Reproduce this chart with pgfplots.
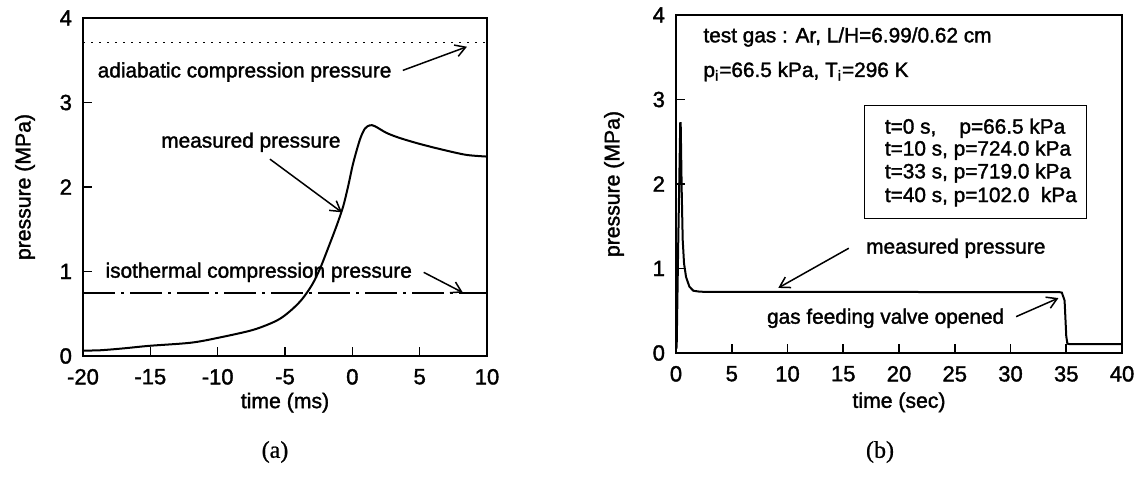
\documentclass[border=0pt]{standalone}
\usepackage{fontspec}
\setmainfont{Liberation Sans}[FakeBold=1.6]
\newfontfamily\seriffont{Liberation Serif}[FakeBold=0.8]
\usepackage{pgfplots}
\pgfplotsset{compat=1.18}
\usetikzlibrary{arrows.meta}
\begin{document}
\begin{tikzpicture}[font=\fontsize{10.4}{12.6}\selectfont,
  ann/.style={line width=0.75pt, -{Straight Barb[length=5pt,width=6pt]}}]
\useasboundingbox (0,0) rectangle (569pt,242.5pt);
\pgfplotsset{myax/.style={scale only axis, anchor=south west, clip=false,
  tick align=inside, tick pos=left, major tick length=4.5pt,
  axis line style={line width=1pt},
  every tick/.style={line width=0.8pt, black},
  ymin=0, ymax=4, ytick={0,1,2,3,4},
  /pgf/number format/assume math mode=true,
  tick label style={font=\fontsize{11}{13}\selectfont},
  yticklabel style={xshift=-2pt},
  xticklabel style={yshift=-3pt},
  label style={font=\fontsize{10.6}{13}\selectfont},
  ylabel={pressure (MPa)}}}
% ---------------- (a)
\begin{axis}[myax, at={(41.5pt,64.5pt)}, width=202pt, height=169pt,
  xmin=-20, xmax=10, xtick={-20,-15,...,10},
  xlabel={time (ms)},
  xlabel style={at={(axis description cs:0.5,-0.138)}, anchor=center},
  ylabel style={at={(axis description cs:-0.1436,0.5)}, anchor=center}]
\addplot[black, line width=0.8pt, dash pattern=on 0.8pt off 3.2pt] coordinates {(-20,3.71) (10,3.71)};
\addplot[black, line width=0.9pt, dash pattern=on 16pt off 3pt on 1.5pt off 3pt] coordinates {(-20,0.745) (10,0.745)};
\addplot[black, line width=1pt, smooth, tension=0.5] coordinates {
(-20,0.065) (-18.8,0.067) (-17,0.09) (-15.1,0.12) (-12,0.157) (-9.94,0.216)
(-7.35,0.31) (-5.6,0.42) (-4.63,0.53) (-3.77,0.665) (-3.0,0.84) (-2.41,1.03)
(-1.79,1.28) (-1.17,1.54) (-0.68,1.77) (-0.31,2.01) (0.06,2.28) (0.56,2.56)
(0.93,2.69) (1.3,2.73) (1.67,2.72) (2.54,2.64) (3.52,2.58) (5.0,2.51)
(6.74,2.44) (8.47,2.38) (10,2.36)};
\node at (axis cs:-8.0,3.36) {adiabatic compression pressure};
\draw[ann] (axis cs:3.75,3.38) -- (axis cs:8.51,3.66);
\node at (axis cs:-7.53,2.53) {measured pressure};
\draw[ann] (axis cs:-6.12,2.33) -- (axis cs:-0.77,1.70);
\node at (axis cs:-6.95,0.99) {isothermal compression pressure};
\draw[ann] (axis cs:5.3,0.99) -- (axis cs:8.21,0.75);
\end{axis}
% ---------------- (b)
\begin{axis}[myax, at={(338pt,66pt)}, width=223pt, height=169pt,
  xmin=0, xmax=40, xtick={0,5,...,40},
  xlabel={time (sec)},
  xlabel style={at={(axis description cs:0.5,-0.146)}, anchor=center},
  ylabel style={at={(axis description cs:-0.139,0.5)}, anchor=center}]
\addplot[black, line width=1pt] coordinates {
(0.02,0.05) (0.06,0.075) (0.2,1.3) (0.38,2.72) (0.42,2.72) (0.51,1.93) (0.6,1.34)
(0.72,1.06) (0.9,0.90) (1.2,0.785) (1.55,0.737) (2.15,0.725) (5,0.722)
(10,0.724) (20,0.722) (30,0.721) (34.4,0.72) (34.6,0.715) (34.75,0.66)
(34.85,0.62) (35.0,0.2) (35.1,0.11) (35.3,0.105) (40,0.105)};
\node[anchor=west] at (axis cs:1.83,3.74) {test gas : Ar, L/H=6.99/0.62 cm};
\node[anchor=west] at (axis cs:1.83,3.33) {p\textsubscript{i}=66.5 kPa, T\textsubscript{i}=296 K};
\draw[line width=0.8pt] (axis cs:16.9,2.93) rectangle (axis cs:36.8,1.59);
\node[anchor=west] at (axis cs:18.1,2.66) {t=0 s,\ \ \ \ p=66.5 kPa};
\node[anchor=west] at (axis cs:18.1,2.40) {t=10 s, p=724.0 kPa};
\node[anchor=west] at (axis cs:18.1,2.13) {t=33 s, p=719.0 kPa};
\node[anchor=west] at (axis cs:18.1,1.85) {t=40 s, p=102.0\ \ kPa};
\node at (axis cs:25.1,1.24) {measured pressure};
\draw[ann] (axis cs:15.5,1.24) -- (axis cs:9.17,0.77);
\node at (axis cs:18.8,0.41) {gas feeding valve opened};
\draw[ann] (axis cs:30.5,0.43) -- (axis cs:34.3,0.65);
\end{axis}
\node[font=\seriffont\fontsize{12}{14}\selectfont] at (137.5pt,16.5pt) {(a)};
\node[font=\seriffont\fontsize{12}{14}\selectfont] at (440pt,16.5pt) {(b)};
\end{tikzpicture}
\end{document}
